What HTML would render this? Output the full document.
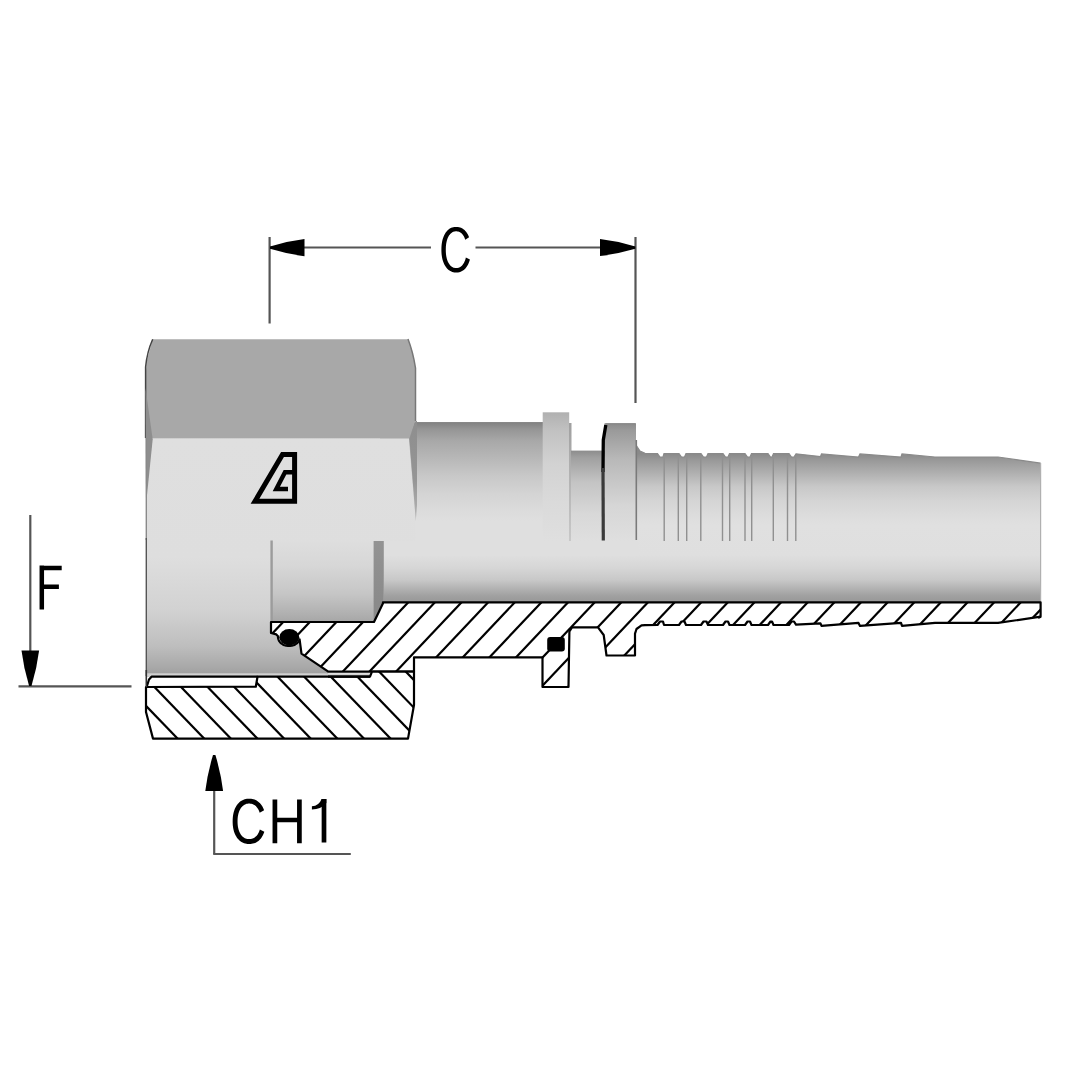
<!DOCTYPE html><html><head><meta charset="utf-8"><style>html,body{margin:0;padding:0;background:#fff;font-family:"Liberation Sans",sans-serif;}svg{display:block;}</style></head><body>
<svg width="1080" height="1080" viewBox="0 0 1080 1080">
<rect width="1080" height="1080" fill="#fff"/>
<defs>
<linearGradient id="gTube" gradientUnits="userSpaceOnUse" x1="0" y1="422" x2="0" y2="602"><stop offset="0" stop-color="#808080"/><stop offset="0.04" stop-color="#959595"/><stop offset="0.105" stop-color="#a8a8a8"/><stop offset="0.205" stop-color="#b8b8b8"/><stop offset="0.3" stop-color="#c8c8c8"/><stop offset="0.4" stop-color="#d4d4d4"/><stop offset="0.5" stop-color="#dcdcdc"/><stop offset="0.55" stop-color="#dfdfdf"/><stop offset="0.739" stop-color="#dfdfdf"/><stop offset="0.811" stop-color="#d6d6d6"/><stop offset="0.878" stop-color="#c8c8c8"/><stop offset="0.922" stop-color="#b4b4b4"/><stop offset="0.967" stop-color="#a0a0a0"/><stop offset="1" stop-color="#989898"/></linearGradient>
<linearGradient id="gHexL" gradientUnits="userSpaceOnUse" x1="0" y1="438" x2="0" y2="677"><stop offset="0" stop-color="#dfdfdf"/><stop offset="0.5" stop-color="#dedede"/><stop offset="0.72" stop-color="#d2d2d2"/><stop offset="0.87" stop-color="#bebebe"/><stop offset="0.96" stop-color="#a8a8a8"/><stop offset="1" stop-color="#9c9c9c"/></linearGradient>
<linearGradient id="gRing1" gradientUnits="userSpaceOnUse" x1="0" y1="412" x2="0" y2="541"><stop offset="0" stop-color="#b0b0b0"/><stop offset="0.15" stop-color="#c2c2c2"/><stop offset="0.4" stop-color="#d2d2d2"/><stop offset="0.7" stop-color="#dadada"/><stop offset="1" stop-color="#dfdfdf"/></linearGradient>
<linearGradient id="gNeck" gradientUnits="userSpaceOnUse" x1="0" y1="450.6" x2="0" y2="541"><stop offset="0" stop-color="#8c8c8c"/><stop offset="0.08" stop-color="#a0a0a0"/><stop offset="0.35" stop-color="#c4c4c4"/><stop offset="0.7" stop-color="#d8d8d8"/><stop offset="1" stop-color="#dfdfdf"/></linearGradient>
<linearGradient id="gRing2" gradientUnits="userSpaceOnUse" x1="0" y1="423.3" x2="0" y2="541"><stop offset="0" stop-color="#8a8a8a"/><stop offset="0.06" stop-color="#9a9a9a"/><stop offset="0.3" stop-color="#b8b8b8"/><stop offset="0.7" stop-color="#d6d6d6"/><stop offset="1" stop-color="#dfdfdf"/></linearGradient>
<linearGradient id="gStep" gradientUnits="userSpaceOnUse" x1="0" y1="423" x2="0" y2="541"><stop offset="0" stop-color="#a0a0a0"/><stop offset="1" stop-color="#c8c8c8"/></linearGradient>
<linearGradient id="gTail" gradientUnits="userSpaceOnUse" x1="0" y1="454" x2="0" y2="602"><stop offset="0" stop-color="#8a8a8a"/><stop offset="0.04" stop-color="#989898"/><stop offset="0.13" stop-color="#b0b0b0"/><stop offset="0.22" stop-color="#c8c8c8"/><stop offset="0.32" stop-color="#d5d5d5"/><stop offset="0.41" stop-color="#dcdcdc"/><stop offset="0.48" stop-color="#e0e0e0"/><stop offset="0.682" stop-color="#dfdfdf"/><stop offset="0.77" stop-color="#d6d6d6"/><stop offset="0.851" stop-color="#c8c8c8"/><stop offset="0.905" stop-color="#b4b4b4"/><stop offset="0.959" stop-color="#a0a0a0"/><stop offset="1" stop-color="#989898"/></linearGradient>
<linearGradient id="gWin" gradientUnits="userSpaceOnUse" x1="0" y1="541" x2="0" y2="622"><stop offset="0" stop-color="#dedede"/><stop offset="0.3" stop-color="#d7d7d7"/><stop offset="0.65" stop-color="#c6c6c6"/><stop offset="0.9" stop-color="#b0b0b0"/><stop offset="1" stop-color="#a6a6a6"/></linearGradient>
<linearGradient id="gBar" gradientUnits="userSpaceOnUse" x1="0" y1="541" x2="0" y2="603"><stop offset="0" stop-color="#939393"/><stop offset="1" stop-color="#8a8a8a"/></linearGradient>
<linearGradient id="gInner" gradientUnits="userSpaceOnUse" x1="0" y1="622" x2="0" y2="674"><stop offset="0" stop-color="#c4c4c4"/><stop offset="0.5" stop-color="#b0b0b0"/><stop offset="1" stop-color="#989898"/></linearGradient>
</defs>
<g stroke="#555" stroke-width="2.2" fill="none">
<line x1="269.6" y1="237" x2="269.6" y2="323.5"/>
<line x1="635.5" y1="237" x2="635.5" y2="403"/>
<line x1="270" y1="247.5" x2="431" y2="247.5"/>
<line x1="475.5" y1="247.5" x2="635" y2="247.5"/>
<line x1="30.3" y1="515" x2="30.3" y2="670"/>
<line x1="18.5" y1="686.4" x2="131.5" y2="686.4"/>
<line x1="214.2" y1="780" x2="214.2" y2="854"/>
<line x1="213.2" y1="854" x2="350.8" y2="854"/>
</g>
<path d="M304.50,239.00 Q287.25,241.10 270.00,246.40 L270.00,248.80 Q287.25,254.10 304.50,256.20 Z" fill="#000"/>
<path d="M600.00,256.10 Q617.65,254.05 635.30,248.80 L635.30,246.40 Q617.65,241.15 600.00,239.10 Z" fill="#000"/>
<path d="M21.50,650.50 Q23.70,668.25 29.10,686.00 L31.50,686.00 Q36.90,668.25 39.10,650.50 Z" fill="#000"/>
<path d="M223.10,791.00 Q220.85,773.00 215.40,755.00 L213.00,755.00 Q207.55,773.00 205.30,791.00 Z" fill="#000"/>
<polygon fill="url(#gTail)" points="636.0,445.0 640.0,451.0 645.0,453.3 657.5,453.5 660.0,457.0 663.0,457.0 664.0,453.5 679.0,453.5 681.5,457.0 684.5,457.0 686.0,453.5 701.0,453.5 703.5,457.0 706.5,457.0 708.0,453.5 723.0,453.5 725.5,457.0 728.0,457.0 729.5,453.5 745.0,453.5 747.5,457.0 750.0,457.0 751.5,453.5 768.0,453.5 770.5,457.0 772.0,457.0 773.5,453.5 789.0,453.5 791.5,457.0 794.0,457.0 796.0,453.8 820.5,456.5 821.5,454.0 858.5,457.0 860.0,454.0 901.0,457.0 902.0,454.0 935.0,457.0 998.0,457.0 1040.6,463.2 1040.6,602.3 636.0,602.3"/>
<polyline fill="none" stroke="#8a8a8a" stroke-width="1.2" points="636.0,445.0 640.0,451.0 645.0,453.3 657.5,453.5 660.0,457.0 663.0,457.0 664.0,453.5 679.0,453.5 681.5,457.0 684.5,457.0 686.0,453.5 701.0,453.5 703.5,457.0 706.5,457.0 708.0,453.5 723.0,453.5 725.5,457.0 728.0,457.0 729.5,453.5 745.0,453.5 747.5,457.0 750.0,457.0 751.5,453.5 768.0,453.5 770.5,457.0 772.0,457.0 773.5,453.5 789.0,453.5 791.5,457.0 794.0,457.0 796.0,453.8 820.5,456.5 821.5,454.0 858.5,457.0 860.0,454.0 901.0,457.0 902.0,454.0 935.0,457.0 998.0,457.0 1040.6,463.2"/>
<line x1="1040.6" y1="463" x2="1040.6" y2="602" stroke="#b0b0b0" stroke-width="1.2"/>
<line x1="664.2" y1="456" x2="664.2" y2="541" stroke="#909090" stroke-width="1.4"/>
<line x1="678.3" y1="456" x2="678.3" y2="541" stroke="#909090" stroke-width="1.4"/>
<line x1="686.7" y1="456" x2="686.7" y2="541" stroke="#909090" stroke-width="1.4"/>
<line x1="700.8" y1="456" x2="700.8" y2="541" stroke="#909090" stroke-width="1.4"/>
<line x1="722.5" y1="456" x2="722.5" y2="541" stroke="#909090" stroke-width="1.4"/>
<line x1="729.7" y1="456" x2="729.7" y2="541" stroke="#909090" stroke-width="1.4"/>
<line x1="745" y1="456" x2="745" y2="541" stroke="#909090" stroke-width="1.4"/>
<line x1="751.7" y1="456" x2="751.7" y2="541" stroke="#909090" stroke-width="1.4"/>
<line x1="773.3" y1="456" x2="773.3" y2="541" stroke="#909090" stroke-width="1.4"/>
<line x1="787.5" y1="456" x2="787.5" y2="541" stroke="#909090" stroke-width="1.4"/>
<line x1="795.8" y1="456" x2="795.8" y2="541" stroke="#909090" stroke-width="1.4"/>
<rect x="380" y="422.5" width="163" height="180" fill="url(#gTube)"/>
<line x1="412" y1="422.5" x2="543" y2="422.5" stroke="#888" stroke-width="1.2"/>
<rect x="542.7" y="412.3" width="26.5" height="129" fill="url(#gRing1)"/>
<rect x="569" y="423" width="2.5" height="118" fill="url(#gStep)"/>
<rect x="571" y="450.6" width="35" height="90.4" fill="url(#gNeck)"/>
<rect x="604.5" y="423.3" width="31.5" height="117.7" fill="url(#gRing2)"/>
<rect x="542" y="541" width="96" height="61.5" fill="url(#gTube)"/>
<line x1="605.5" y1="423.8" x2="635.5" y2="423.8" stroke="#888" stroke-width="1.2"/>
<path d="M605.8,425 L603.3,440 L603,472" stroke="#000" stroke-width="3.3" fill="none"/>
<path d="M603,468 L603.3,540.5" stroke="#3a3a3a" stroke-width="3.2" fill="none"/>
<line x1="636.3" y1="440" x2="636.3" y2="540" stroke="#7a7a7a" stroke-width="1.6"/>
<polygon fill="#a8a8a8" points="152.7,339.2 408.0,339.2 412.0,350.0 415.5,368.0 415.5,421.0 409.0,438.7 146.0,438.7 145.5,380.0 146.5,362.0"/>
<path d="M152.7,339.2 Q147,352 145.6,367 L145.6,438" stroke="#444" stroke-width="1.5" fill="none"/>
<path d="M408,339 Q413,352 415.5,368 L415.5,421" stroke="#777" stroke-width="1.5" fill="none"/>
<polygon fill="url(#gHexL)" points="146,438.5 409,438.5 415.5,521 415.5,541 384,541 384,602 383,603.3 374,622 271,622 271,541 271,674 146,674"/>
<polygon points="145.5,388 152.7,439.3 146,505" fill="#8e8e8e"/>
<linearGradient id="gWedge" gradientUnits="userSpaceOnUse" x1="0" y1="421" x2="0" y2="521"><stop offset="0" stop-color="#8e8e8e"/><stop offset="0.6" stop-color="#959595"/><stop offset="1" stop-color="#b8b8b8"/></linearGradient>
<polygon points="409.4,438.7 415.5,421 417,421 417,505 415.8,521" fill="url(#gWedge)"/>
<rect x="271" y="541" width="103" height="81" fill="url(#gWin)"/>
<polygon points="373.6,541 383.8,541 383.8,602 374,622 373.6,622" fill="url(#gBar)"/>
<polygon fill="url(#gHexL)" points="146,622 271,622 271,633 276,634 300,639.6 301.5,653.7 328,671.7 328,676.7 146,676.7"/>
<polygon fill="url(#gHexL)" points="146,600 271,600 271,676 146,676"/>
<line x1="271.6" y1="540.5" x2="271.6" y2="622" stroke="#9c9c9c" stroke-width="2.4"/>
<line x1="146.3" y1="438" x2="146.3" y2="540" stroke="#8a8a8a" stroke-width="1.4"/>
<line x1="146.3" y1="538" x2="146.3" y2="676" stroke="#555" stroke-width="1.4"/>
<rect x="146.5" y="673.3" width="224" height="3.6" fill="#d2d2d2"/>
<g fill="none" stroke="#000" stroke-linejoin="miter">
<polygon points="282.5,454.6 294.6,454.6 294.6,501.3 255,501.3" stroke-width="5"/>
<polyline points="297,472.2 285,472.2 276.3,489 288,489" stroke-width="4.4"/>
</g>
<polygon fill="#fff" points="271.0,622.0 374.0,622.0 383.0,603.3 383.0,602.3 1040.6,602.3 1040.6,615.8 1039.0,617.6 1040.6,616.7 998.0,622.9 935.0,622.9 902.0,625.9 901.0,622.9 860.0,625.9 858.5,622.9 821.5,625.9 820.5,623.4 796.0,624.7 794.0,621.5 791.5,621.5 789.0,625.0 773.5,625.0 772.0,621.5 770.5,621.5 768.0,625.0 751.5,625.0 750.0,621.5 747.5,621.5 745.0,625.0 729.5,625.0 728.0,621.5 725.5,621.5 723.0,625.0 708.0,625.0 706.5,621.5 703.5,621.5 701.0,625.0 686.0,625.0 684.5,621.5 681.5,621.5 679.0,625.0 664.0,625.0 663.0,621.5 660.0,621.5 657.5,625.0 645.0,625.2 641.5,625.4 636.5,629.0 635.0,633.7 635.0,655.5 606.5,655.5 603.7,635.0 598.0,627.3 572.0,627.3 569.4,631.5 568.5,687.0 542.5,687.0 542.5,657.4 414.0,657.4 414.0,671.7 328.3,671.7 301.5,653.7 299.6,639.3 299.0,640.8 298.0,642.2 296.8,643.4 295.3,644.4 293.6,645.2 291.8,645.7 290.0,646.0 288.0,646.0 286.2,645.7 284.4,645.2 282.7,644.4 281.2,643.4 280.0,642.2 279.0,640.8 278.4,639.3 278.0,637.8 278.0,636.2 276.3,634.4 271.0,633.0"/>
<clipPath id="cS"><polygon points="271.0,622.0 374.0,622.0 383.0,603.3 383.0,602.3 1040.6,602.3 1040.6,615.8 1039.0,617.6 1040.6,616.7 998.0,622.9 935.0,622.9 902.0,625.9 901.0,622.9 860.0,625.9 858.5,622.9 821.5,625.9 820.5,623.4 796.0,624.7 794.0,621.5 791.5,621.5 789.0,625.0 773.5,625.0 772.0,621.5 770.5,621.5 768.0,625.0 751.5,625.0 750.0,621.5 747.5,621.5 745.0,625.0 729.5,625.0 728.0,621.5 725.5,621.5 723.0,625.0 708.0,625.0 706.5,621.5 703.5,621.5 701.0,625.0 686.0,625.0 684.5,621.5 681.5,621.5 679.0,625.0 664.0,625.0 663.0,621.5 660.0,621.5 657.5,625.0 645.0,625.2 641.5,625.4 636.5,629.0 635.0,633.7 635.0,655.5 606.5,655.5 603.7,635.0 598.0,627.3 572.0,627.3 569.4,631.5 568.5,687.0 542.5,687.0 542.5,657.4 414.0,657.4 414.0,671.7 328.3,671.7 301.5,653.7 299.6,639.3 299.0,640.8 298.0,642.2 296.8,643.4 295.3,644.4 293.6,645.2 291.8,645.7 290.0,646.0 288.0,646.0 286.2,645.7 284.4,645.2 282.7,644.4 281.2,643.4 280.0,642.2 279.0,640.8 278.4,639.3 278.0,637.8 278.0,636.2 276.3,634.4 271.0,633.0"/></clipPath>
<g clip-path="url(#cS)" stroke="#000" stroke-width="2.2">
<line x1="-1149.53" y1="560" x2="-1338.53" y2="760"/>
<line x1="-1122.90" y1="560" x2="-1311.90" y2="760"/>
<line x1="-1096.27" y1="560" x2="-1285.27" y2="760"/>
<line x1="-1069.64" y1="560" x2="-1258.64" y2="760"/>
<line x1="-1043.01" y1="560" x2="-1232.01" y2="760"/>
<line x1="-1016.38" y1="560" x2="-1205.38" y2="760"/>
<line x1="-989.75" y1="560" x2="-1178.75" y2="760"/>
<line x1="-963.12" y1="560" x2="-1152.12" y2="760"/>
<line x1="-936.49" y1="560" x2="-1125.49" y2="760"/>
<line x1="-909.86" y1="560" x2="-1098.86" y2="760"/>
<line x1="-883.23" y1="560" x2="-1072.23" y2="760"/>
<line x1="-856.60" y1="560" x2="-1045.60" y2="760"/>
<line x1="-829.97" y1="560" x2="-1018.97" y2="760"/>
<line x1="-803.34" y1="560" x2="-992.34" y2="760"/>
<line x1="-776.71" y1="560" x2="-965.71" y2="760"/>
<line x1="-750.08" y1="560" x2="-939.08" y2="760"/>
<line x1="-723.45" y1="560" x2="-912.45" y2="760"/>
<line x1="-696.82" y1="560" x2="-885.82" y2="760"/>
<line x1="-670.19" y1="560" x2="-859.19" y2="760"/>
<line x1="-643.56" y1="560" x2="-832.56" y2="760"/>
<line x1="-616.93" y1="560" x2="-805.93" y2="760"/>
<line x1="-590.30" y1="560" x2="-779.30" y2="760"/>
<line x1="-563.67" y1="560" x2="-752.67" y2="760"/>
<line x1="-537.04" y1="560" x2="-726.04" y2="760"/>
<line x1="-510.41" y1="560" x2="-699.41" y2="760"/>
<line x1="-483.78" y1="560" x2="-672.78" y2="760"/>
<line x1="-457.15" y1="560" x2="-646.15" y2="760"/>
<line x1="-430.52" y1="560" x2="-619.52" y2="760"/>
<line x1="-403.89" y1="560" x2="-592.89" y2="760"/>
<line x1="-377.26" y1="560" x2="-566.26" y2="760"/>
<line x1="-350.63" y1="560" x2="-539.63" y2="760"/>
<line x1="-324.00" y1="560" x2="-513.00" y2="760"/>
<line x1="-297.37" y1="560" x2="-486.37" y2="760"/>
<line x1="-270.74" y1="560" x2="-459.74" y2="760"/>
<line x1="-244.11" y1="560" x2="-433.11" y2="760"/>
<line x1="-217.48" y1="560" x2="-406.48" y2="760"/>
<line x1="-190.85" y1="560" x2="-379.85" y2="760"/>
<line x1="-164.22" y1="560" x2="-353.22" y2="760"/>
<line x1="-137.59" y1="560" x2="-326.59" y2="760"/>
<line x1="-110.96" y1="560" x2="-299.96" y2="760"/>
<line x1="-84.33" y1="560" x2="-273.33" y2="760"/>
<line x1="-57.70" y1="560" x2="-246.70" y2="760"/>
<line x1="-31.07" y1="560" x2="-220.07" y2="760"/>
<line x1="-4.44" y1="560" x2="-193.44" y2="760"/>
<line x1="22.19" y1="560" x2="-166.81" y2="760"/>
<line x1="48.82" y1="560" x2="-140.18" y2="760"/>
<line x1="75.45" y1="560" x2="-113.55" y2="760"/>
<line x1="102.08" y1="560" x2="-86.92" y2="760"/>
<line x1="128.71" y1="560" x2="-60.29" y2="760"/>
<line x1="155.34" y1="560" x2="-33.66" y2="760"/>
<line x1="181.97" y1="560" x2="-7.03" y2="760"/>
<line x1="208.60" y1="560" x2="19.60" y2="760"/>
<line x1="235.23" y1="560" x2="46.23" y2="760"/>
<line x1="261.86" y1="560" x2="72.86" y2="760"/>
<line x1="288.49" y1="560" x2="99.49" y2="760"/>
<line x1="315.12" y1="560" x2="126.12" y2="760"/>
<line x1="341.75" y1="560" x2="152.75" y2="760"/>
<line x1="368.38" y1="560" x2="179.38" y2="760"/>
<line x1="395.01" y1="560" x2="206.01" y2="760"/>
<line x1="421.64" y1="560" x2="232.64" y2="760"/>
<line x1="448.27" y1="560" x2="259.27" y2="760"/>
<line x1="474.90" y1="560" x2="285.90" y2="760"/>
<line x1="501.53" y1="560" x2="312.53" y2="760"/>
<line x1="528.16" y1="560" x2="339.16" y2="760"/>
<line x1="554.79" y1="560" x2="365.79" y2="760"/>
<line x1="581.42" y1="560" x2="392.42" y2="760"/>
<line x1="608.05" y1="560" x2="419.05" y2="760"/>
<line x1="634.68" y1="560" x2="445.68" y2="760"/>
<line x1="661.31" y1="560" x2="472.31" y2="760"/>
<line x1="687.94" y1="560" x2="498.94" y2="760"/>
<line x1="714.57" y1="560" x2="525.57" y2="760"/>
<line x1="741.20" y1="560" x2="552.20" y2="760"/>
<line x1="767.83" y1="560" x2="578.83" y2="760"/>
<line x1="794.46" y1="560" x2="605.46" y2="760"/>
<line x1="821.09" y1="560" x2="632.09" y2="760"/>
<line x1="847.72" y1="560" x2="658.72" y2="760"/>
<line x1="874.35" y1="560" x2="685.35" y2="760"/>
<line x1="900.98" y1="560" x2="711.98" y2="760"/>
<line x1="927.61" y1="560" x2="738.61" y2="760"/>
<line x1="954.24" y1="560" x2="765.24" y2="760"/>
<line x1="980.87" y1="560" x2="791.87" y2="760"/>
<line x1="1007.50" y1="560" x2="818.50" y2="760"/>
<line x1="1034.13" y1="560" x2="845.13" y2="760"/>
<line x1="1060.76" y1="560" x2="871.76" y2="760"/>
<line x1="1087.39" y1="560" x2="898.39" y2="760"/>
<line x1="1114.02" y1="560" x2="925.02" y2="760"/>
<line x1="1140.65" y1="560" x2="951.65" y2="760"/>
<line x1="1167.28" y1="560" x2="978.28" y2="760"/>
<line x1="1193.91" y1="560" x2="1004.91" y2="760"/>
<line x1="1220.54" y1="560" x2="1031.54" y2="760"/>
<line x1="1247.17" y1="560" x2="1058.17" y2="760"/>
<line x1="1273.80" y1="560" x2="1084.80" y2="760"/>
<line x1="1300.43" y1="560" x2="1111.43" y2="760"/>
<line x1="1327.06" y1="560" x2="1138.06" y2="760"/>
<line x1="1353.69" y1="560" x2="1164.69" y2="760"/>
<line x1="1380.32" y1="560" x2="1191.32" y2="760"/>
<line x1="1406.95" y1="560" x2="1217.95" y2="760"/>
<line x1="1433.58" y1="560" x2="1244.58" y2="760"/>
<line x1="1460.21" y1="560" x2="1271.21" y2="760"/>
<line x1="1486.84" y1="560" x2="1297.84" y2="760"/>
<line x1="1513.47" y1="560" x2="1324.47" y2="760"/>
<line x1="1540.10" y1="560" x2="1351.10" y2="760"/>
<line x1="1566.73" y1="560" x2="1377.73" y2="760"/>
<line x1="1593.36" y1="560" x2="1404.36" y2="760"/>
<line x1="1619.99" y1="560" x2="1430.99" y2="760"/>
<line x1="1646.62" y1="560" x2="1457.62" y2="760"/>
<line x1="1673.25" y1="560" x2="1484.25" y2="760"/>
<line x1="1699.88" y1="560" x2="1510.88" y2="760"/>
<line x1="1726.51" y1="560" x2="1537.51" y2="760"/>
<line x1="1753.14" y1="560" x2="1564.14" y2="760"/>
<line x1="1779.77" y1="560" x2="1590.77" y2="760"/>
<line x1="1806.40" y1="560" x2="1617.40" y2="760"/>
<line x1="1833.03" y1="560" x2="1644.03" y2="760"/>
<line x1="1859.66" y1="560" x2="1670.66" y2="760"/>
<line x1="1886.29" y1="560" x2="1697.29" y2="760"/>
<line x1="1912.92" y1="560" x2="1723.92" y2="760"/>
<line x1="1939.55" y1="560" x2="1750.55" y2="760"/>
<line x1="1966.18" y1="560" x2="1777.18" y2="760"/>
<line x1="1992.81" y1="560" x2="1803.81" y2="760"/>
<line x1="2019.44" y1="560" x2="1830.44" y2="760"/>
</g>
<polygon fill="none" stroke="#000" stroke-width="2.2" stroke-linejoin="round" points="271.0,622.0 374.0,622.0 383.0,603.3 383.0,602.3 1040.6,602.3 1040.6,615.8 1039.0,617.6 1040.6,616.7 998.0,622.9 935.0,622.9 902.0,625.9 901.0,622.9 860.0,625.9 858.5,622.9 821.5,625.9 820.5,623.4 796.0,624.7 794.0,621.5 791.5,621.5 789.0,625.0 773.5,625.0 772.0,621.5 770.5,621.5 768.0,625.0 751.5,625.0 750.0,621.5 747.5,621.5 745.0,625.0 729.5,625.0 728.0,621.5 725.5,621.5 723.0,625.0 708.0,625.0 706.5,621.5 703.5,621.5 701.0,625.0 686.0,625.0 684.5,621.5 681.5,621.5 679.0,625.0 664.0,625.0 663.0,621.5 660.0,621.5 657.5,625.0 645.0,625.2 641.5,625.4 636.5,629.0 635.0,633.7 635.0,655.5 606.5,655.5 603.7,635.0 598.0,627.3 572.0,627.3 569.4,631.5 568.5,687.0 542.5,687.0 542.5,657.4 414.0,657.4 414.0,671.7 328.3,671.7 301.5,653.7 299.6,639.3 299.0,640.8 298.0,642.2 296.8,643.4 295.3,644.4 293.6,645.2 291.8,645.7 290.0,646.0 288.0,646.0 286.2,645.7 284.4,645.2 282.7,644.4 281.2,643.4 280.0,642.2 279.0,640.8 278.4,639.3 278.0,637.8 278.0,636.2 276.3,634.4 271.0,633.0"/>
<ellipse cx="289.3" cy="637.2" rx="10" ry="8.2" fill="#000"/>
<rect x="547.2" y="637" width="17.6" height="14.4" rx="3" fill="#000"/>
<polygon fill="#fff" points="146.0,687.0 255.8,686.7 257.5,676.7 370.0,676.7 372.0,671.7 414.0,671.7 414.0,705.0 408.0,738.6 153.0,738.6 146.0,712.0"/>
<clipPath id="cN"><polygon points="146.0,687.0 255.8,686.7 257.5,676.7 370.0,676.7 372.0,671.7 414.0,671.7 414.0,705.0 408.0,738.6 153.0,738.6 146.0,712.0"/></clipPath>
<g clip-path="url(#cN)" stroke="#000" stroke-width="2.2">
<line x1="-1591.95" y1="560" x2="-1398.95" y2="760"/>
<line x1="-1565.33" y1="560" x2="-1372.33" y2="760"/>
<line x1="-1538.71" y1="560" x2="-1345.71" y2="760"/>
<line x1="-1512.09" y1="560" x2="-1319.09" y2="760"/>
<line x1="-1485.47" y1="560" x2="-1292.47" y2="760"/>
<line x1="-1458.85" y1="560" x2="-1265.85" y2="760"/>
<line x1="-1432.23" y1="560" x2="-1239.23" y2="760"/>
<line x1="-1405.61" y1="560" x2="-1212.61" y2="760"/>
<line x1="-1378.99" y1="560" x2="-1185.99" y2="760"/>
<line x1="-1352.37" y1="560" x2="-1159.37" y2="760"/>
<line x1="-1325.75" y1="560" x2="-1132.75" y2="760"/>
<line x1="-1299.13" y1="560" x2="-1106.13" y2="760"/>
<line x1="-1272.51" y1="560" x2="-1079.51" y2="760"/>
<line x1="-1245.89" y1="560" x2="-1052.89" y2="760"/>
<line x1="-1219.27" y1="560" x2="-1026.27" y2="760"/>
<line x1="-1192.65" y1="560" x2="-999.65" y2="760"/>
<line x1="-1166.03" y1="560" x2="-973.03" y2="760"/>
<line x1="-1139.41" y1="560" x2="-946.41" y2="760"/>
<line x1="-1112.79" y1="560" x2="-919.79" y2="760"/>
<line x1="-1086.17" y1="560" x2="-893.17" y2="760"/>
<line x1="-1059.55" y1="560" x2="-866.55" y2="760"/>
<line x1="-1032.93" y1="560" x2="-839.93" y2="760"/>
<line x1="-1006.31" y1="560" x2="-813.31" y2="760"/>
<line x1="-979.69" y1="560" x2="-786.69" y2="760"/>
<line x1="-953.07" y1="560" x2="-760.07" y2="760"/>
<line x1="-926.45" y1="560" x2="-733.45" y2="760"/>
<line x1="-899.83" y1="560" x2="-706.83" y2="760"/>
<line x1="-873.21" y1="560" x2="-680.21" y2="760"/>
<line x1="-846.59" y1="560" x2="-653.59" y2="760"/>
<line x1="-819.97" y1="560" x2="-626.97" y2="760"/>
<line x1="-793.35" y1="560" x2="-600.35" y2="760"/>
<line x1="-766.73" y1="560" x2="-573.73" y2="760"/>
<line x1="-740.11" y1="560" x2="-547.11" y2="760"/>
<line x1="-713.49" y1="560" x2="-520.49" y2="760"/>
<line x1="-686.87" y1="560" x2="-493.87" y2="760"/>
<line x1="-660.25" y1="560" x2="-467.25" y2="760"/>
<line x1="-633.63" y1="560" x2="-440.63" y2="760"/>
<line x1="-607.01" y1="560" x2="-414.01" y2="760"/>
<line x1="-580.39" y1="560" x2="-387.39" y2="760"/>
<line x1="-553.77" y1="560" x2="-360.77" y2="760"/>
<line x1="-527.15" y1="560" x2="-334.15" y2="760"/>
<line x1="-500.53" y1="560" x2="-307.53" y2="760"/>
<line x1="-473.91" y1="560" x2="-280.91" y2="760"/>
<line x1="-447.29" y1="560" x2="-254.29" y2="760"/>
<line x1="-420.67" y1="560" x2="-227.67" y2="760"/>
<line x1="-394.05" y1="560" x2="-201.05" y2="760"/>
<line x1="-367.43" y1="560" x2="-174.43" y2="760"/>
<line x1="-340.81" y1="560" x2="-147.81" y2="760"/>
<line x1="-314.19" y1="560" x2="-121.19" y2="760"/>
<line x1="-287.57" y1="560" x2="-94.57" y2="760"/>
<line x1="-260.95" y1="560" x2="-67.95" y2="760"/>
<line x1="-234.33" y1="560" x2="-41.33" y2="760"/>
<line x1="-207.71" y1="560" x2="-14.71" y2="760"/>
<line x1="-181.09" y1="560" x2="11.91" y2="760"/>
<line x1="-154.47" y1="560" x2="38.53" y2="760"/>
<line x1="-127.85" y1="560" x2="65.15" y2="760"/>
<line x1="-101.23" y1="560" x2="91.77" y2="760"/>
<line x1="-74.61" y1="560" x2="118.39" y2="760"/>
<line x1="-47.99" y1="560" x2="145.01" y2="760"/>
<line x1="-21.37" y1="560" x2="171.63" y2="760"/>
<line x1="5.25" y1="560" x2="198.25" y2="760"/>
<line x1="31.87" y1="560" x2="224.87" y2="760"/>
<line x1="58.49" y1="560" x2="251.49" y2="760"/>
<line x1="85.11" y1="560" x2="278.11" y2="760"/>
<line x1="111.73" y1="560" x2="304.73" y2="760"/>
<line x1="138.35" y1="560" x2="331.35" y2="760"/>
<line x1="164.97" y1="560" x2="357.97" y2="760"/>
<line x1="191.59" y1="560" x2="384.59" y2="760"/>
<line x1="218.21" y1="560" x2="411.21" y2="760"/>
<line x1="244.83" y1="560" x2="437.83" y2="760"/>
<line x1="271.45" y1="560" x2="464.45" y2="760"/>
<line x1="298.07" y1="560" x2="491.07" y2="760"/>
<line x1="324.69" y1="560" x2="517.69" y2="760"/>
<line x1="351.31" y1="560" x2="544.31" y2="760"/>
<line x1="377.93" y1="560" x2="570.93" y2="760"/>
<line x1="404.55" y1="560" x2="597.55" y2="760"/>
<line x1="431.17" y1="560" x2="624.17" y2="760"/>
<line x1="457.79" y1="560" x2="650.79" y2="760"/>
<line x1="484.41" y1="560" x2="677.41" y2="760"/>
<line x1="511.03" y1="560" x2="704.03" y2="760"/>
<line x1="537.65" y1="560" x2="730.65" y2="760"/>
<line x1="564.27" y1="560" x2="757.27" y2="760"/>
<line x1="590.89" y1="560" x2="783.89" y2="760"/>
<line x1="617.51" y1="560" x2="810.51" y2="760"/>
<line x1="644.13" y1="560" x2="837.13" y2="760"/>
<line x1="670.75" y1="560" x2="863.75" y2="760"/>
<line x1="697.37" y1="560" x2="890.37" y2="760"/>
<line x1="723.99" y1="560" x2="916.99" y2="760"/>
<line x1="750.61" y1="560" x2="943.61" y2="760"/>
<line x1="777.23" y1="560" x2="970.23" y2="760"/>
<line x1="803.85" y1="560" x2="996.85" y2="760"/>
<line x1="830.47" y1="560" x2="1023.47" y2="760"/>
<line x1="857.09" y1="560" x2="1050.09" y2="760"/>
<line x1="883.71" y1="560" x2="1076.71" y2="760"/>
<line x1="910.33" y1="560" x2="1103.33" y2="760"/>
<line x1="936.95" y1="560" x2="1129.95" y2="760"/>
<line x1="963.57" y1="560" x2="1156.57" y2="760"/>
<line x1="990.19" y1="560" x2="1183.19" y2="760"/>
<line x1="1016.81" y1="560" x2="1209.81" y2="760"/>
<line x1="1043.43" y1="560" x2="1236.43" y2="760"/>
<line x1="1070.05" y1="560" x2="1263.05" y2="760"/>
<line x1="1096.67" y1="560" x2="1289.67" y2="760"/>
<line x1="1123.29" y1="560" x2="1316.29" y2="760"/>
<line x1="1149.91" y1="560" x2="1342.91" y2="760"/>
<line x1="1176.53" y1="560" x2="1369.53" y2="760"/>
<line x1="1203.15" y1="560" x2="1396.15" y2="760"/>
<line x1="1229.77" y1="560" x2="1422.77" y2="760"/>
<line x1="1256.39" y1="560" x2="1449.39" y2="760"/>
<line x1="1283.01" y1="560" x2="1476.01" y2="760"/>
<line x1="1309.63" y1="560" x2="1502.63" y2="760"/>
<line x1="1336.25" y1="560" x2="1529.25" y2="760"/>
<line x1="1362.87" y1="560" x2="1555.87" y2="760"/>
<line x1="1389.49" y1="560" x2="1582.49" y2="760"/>
<line x1="1416.11" y1="560" x2="1609.11" y2="760"/>
<line x1="1442.73" y1="560" x2="1635.73" y2="760"/>
<line x1="1469.35" y1="560" x2="1662.35" y2="760"/>
<line x1="1495.97" y1="560" x2="1688.97" y2="760"/>
<line x1="1522.59" y1="560" x2="1715.59" y2="760"/>
<line x1="1549.21" y1="560" x2="1742.21" y2="760"/>
<line x1="1575.83" y1="560" x2="1768.83" y2="760"/>
</g>
<polygon fill="none" stroke="#000" stroke-width="2.2" stroke-linejoin="round" points="146.0,687.0 255.8,686.7 257.5,676.7 370.0,676.7 372.0,671.7 414.0,671.7 414.0,705.0 408.0,738.6 153.0,738.6 146.0,712.0"/>
<polyline fill="none" stroke="#000" stroke-width="2.2" stroke-linejoin="round" points="146.8,686.5 149,679.5 151.5,676.7 257.5,676.7"/>
<line x1="146.3" y1="670" x2="146.3" y2="687" stroke="#333" stroke-width="1.6"/>
<line x1="328" y1="676.7" x2="370" y2="676.7" stroke="#000" stroke-width="2.2"/>
<path d="M469.07,237.23 L468.57,236.00 L468.02,234.84 L467.42,233.74 L466.77,232.72 L466.08,231.78 L465.34,230.91 L464.56,230.12 L463.73,229.41 L462.87,228.79 L461.96,228.25 L461.02,227.80 L460.04,227.44 L459.02,227.17 L457.94,226.99 L456.78,226.91 L455.44,226.92 L454.29,227.01 L453.23,227.21 L452.21,227.49 L451.24,227.86 L450.30,228.32 L449.40,228.87 L448.54,229.51 L447.72,230.23 L446.95,231.03 L446.21,231.91 L445.52,232.87 L444.88,233.90 L444.29,235.01 L443.75,236.18 L443.27,237.42 L442.83,238.72 L442.45,240.08 L442.13,241.50 L441.87,242.98 L441.66,244.52 L441.51,246.13 L441.43,247.84 L441.40,249.82 L441.43,251.73 L441.53,253.42 L441.68,255.02 L441.89,256.56 L442.16,258.03 L442.49,259.45 L442.87,260.80 L443.31,262.10 L443.80,263.33 L444.35,264.50 L444.94,265.59 L445.59,266.62 L446.28,267.57 L447.02,268.44 L447.80,269.24 L448.62,269.95 L449.48,270.58 L450.38,271.12 L451.32,271.58 L452.30,271.94 L453.32,272.22 L454.39,272.40 L455.55,272.49 L456.89,272.49 L458.04,272.39 L459.11,272.21 L460.13,271.93 L461.11,271.56 L462.05,271.11 L462.95,270.56 L463.81,269.93 L464.63,269.21 L465.41,268.42 L466.15,267.54 L466.84,266.59 L467.48,265.56 L468.07,264.46 L468.62,263.29 L469.11,262.06 L469.54,260.76 L469.93,259.40 L465.85,257.53 L465.58,258.63 L465.27,259.67 L464.93,260.67 L464.54,261.61 L464.13,262.50 L463.67,263.33 L463.19,264.10 L462.67,264.81 L462.12,265.45 L461.55,266.03 L460.94,266.54 L460.31,266.97 L459.65,267.34 L458.96,267.64 L458.25,267.86 L457.49,268.01 L456.69,268.09 L455.74,268.09 L454.93,268.02 L454.18,267.87 L453.46,267.65 L452.77,267.35 L452.11,266.99 L451.48,266.55 L450.87,266.04 L450.29,265.47 L449.75,264.83 L449.23,264.12 L448.74,263.35 L448.29,262.53 L447.87,261.64 L447.49,260.70 L447.14,259.71 L446.83,258.66 L446.56,257.57 L446.33,256.43 L446.14,255.24 L445.99,254.00 L445.89,252.70 L445.82,251.34 L445.80,249.80 L445.82,248.20 L445.88,246.82 L445.98,245.52 L446.13,244.28 L446.31,243.08 L446.54,241.94 L446.81,240.84 L447.11,239.79 L447.45,238.79 L447.83,237.84 L448.25,236.95 L448.70,236.12 L449.18,235.35 L449.70,234.63 L450.24,233.99 L450.82,233.41 L451.42,232.89 L452.05,232.45 L452.71,232.08 L453.40,231.77 L454.11,231.55 L454.86,231.39 L455.66,231.31 L456.61,231.31 L457.42,231.38 L458.18,231.52 L458.90,231.74 L459.59,232.03 L460.25,232.39 L460.88,232.82 L461.49,233.32 L462.07,233.90 L462.62,234.53 L463.14,235.24 L463.63,236.00 L464.09,236.82 L464.51,237.71 L464.89,238.64 L465.24,239.63Z" fill="#000"/>
<path d="M41.8,565.6 V609.4 M39.7,567.9 H61.7 M39.7,586.8 H58.9" fill="none" stroke="#000" stroke-width="4.5"/>
<path d="M264.10,810.30 L263.61,809.01 L263.05,807.78 L262.44,806.61 L261.76,805.52 L261.03,804.50 L260.25,803.55 L259.42,802.68 L258.54,801.89 L257.61,801.18 L256.63,800.56 L255.62,800.03 L254.55,799.58 L253.45,799.22 L252.30,798.96 L251.08,798.79 L249.77,798.71 L248.26,798.72 L246.98,798.82 L245.78,799.02 L244.64,799.31 L243.55,799.69 L242.50,800.16 L241.49,800.72 L240.53,801.37 L239.62,802.10 L238.75,802.91 L237.93,803.80 L237.16,804.77 L236.45,805.81 L235.79,806.93 L235.19,808.11 L234.65,809.35 L234.17,810.67 L233.76,812.04 L233.41,813.47 L233.12,814.96 L232.90,816.51 L232.75,818.14 L232.67,819.87 L232.65,821.92 L232.70,823.75 L232.82,825.42 L233.01,827.00 L233.26,828.52 L233.58,829.98 L233.97,831.38 L234.41,832.72 L234.92,834.00 L235.50,835.22 L236.13,836.36 L236.81,837.44 L237.55,838.44 L238.35,839.37 L239.19,840.22 L240.09,840.99 L241.03,841.68 L242.01,842.28 L243.04,842.79 L244.11,843.22 L245.23,843.55 L246.40,843.79 L247.63,843.94 L249.00,844.00 L250.47,843.96 L251.72,843.84 L252.90,843.61 L254.03,843.30 L255.11,842.90 L256.15,842.41 L257.15,841.83 L258.10,841.16 L259.00,840.41 L259.86,839.58 L260.67,838.67 L261.42,837.68 L262.12,836.62 L262.76,835.49 L263.35,834.29 L263.87,833.03 L264.33,831.70 L259.85,829.46 L259.53,830.50 L259.16,831.49 L258.75,832.43 L258.29,833.32 L257.80,834.15 L257.27,834.92 L256.70,835.63 L256.10,836.29 L255.46,836.87 L254.79,837.40 L254.09,837.85 L253.36,838.24 L252.60,838.55 L251.81,838.80 L250.97,838.97 L250.09,839.07 L249.06,839.10 L248.09,839.05 L247.23,838.94 L246.41,838.75 L245.62,838.49 L244.86,838.15 L244.14,837.75 L243.45,837.28 L242.78,836.74 L242.16,836.14 L241.56,835.47 L241.00,834.75 L240.48,833.96 L240.00,833.11 L239.55,832.22 L239.15,831.26 L238.79,830.26 L238.48,829.21 L238.21,828.12 L237.98,826.97 L237.80,825.78 L237.67,824.54 L237.59,823.23 L237.55,821.80 L237.56,820.19 L237.62,818.83 L237.73,817.56 L237.88,816.34 L238.08,815.17 L238.33,814.05 L238.62,812.98 L238.96,811.95 L239.34,810.97 L239.76,810.05 L240.22,809.17 L240.73,808.36 L241.27,807.60 L241.84,806.90 L242.45,806.26 L243.10,805.69 L243.78,805.19 L244.48,804.75 L245.22,804.38 L245.99,804.08 L246.80,803.85 L247.64,803.70 L248.54,803.61 L249.60,803.60 L250.52,803.67 L251.38,803.80 L252.19,804.01 L252.97,804.29 L253.72,804.64 L254.43,805.06 L255.12,805.55 L255.77,806.10 L256.39,806.72 L256.98,807.40 L257.53,808.14 L258.04,808.94 L258.52,809.80 L258.95,810.71 L259.34,811.68 L259.69,812.69Z" fill="#000"/>
<path d="M274.9,799.4 V843.3 M299.4,799.4 V843.3 M274.9,820 H299.4 M324,799.1 V842.4" fill="none" stroke="#000" stroke-width="4.7"/>
<path d="M321.6,799.1 L326.4,799.1 L326.4,803 Q321,809.5 311.9,809.5 L311.9,806.3 Q319,806 321.6,799.1 Z" fill="#000"/>
</svg></body></html>
